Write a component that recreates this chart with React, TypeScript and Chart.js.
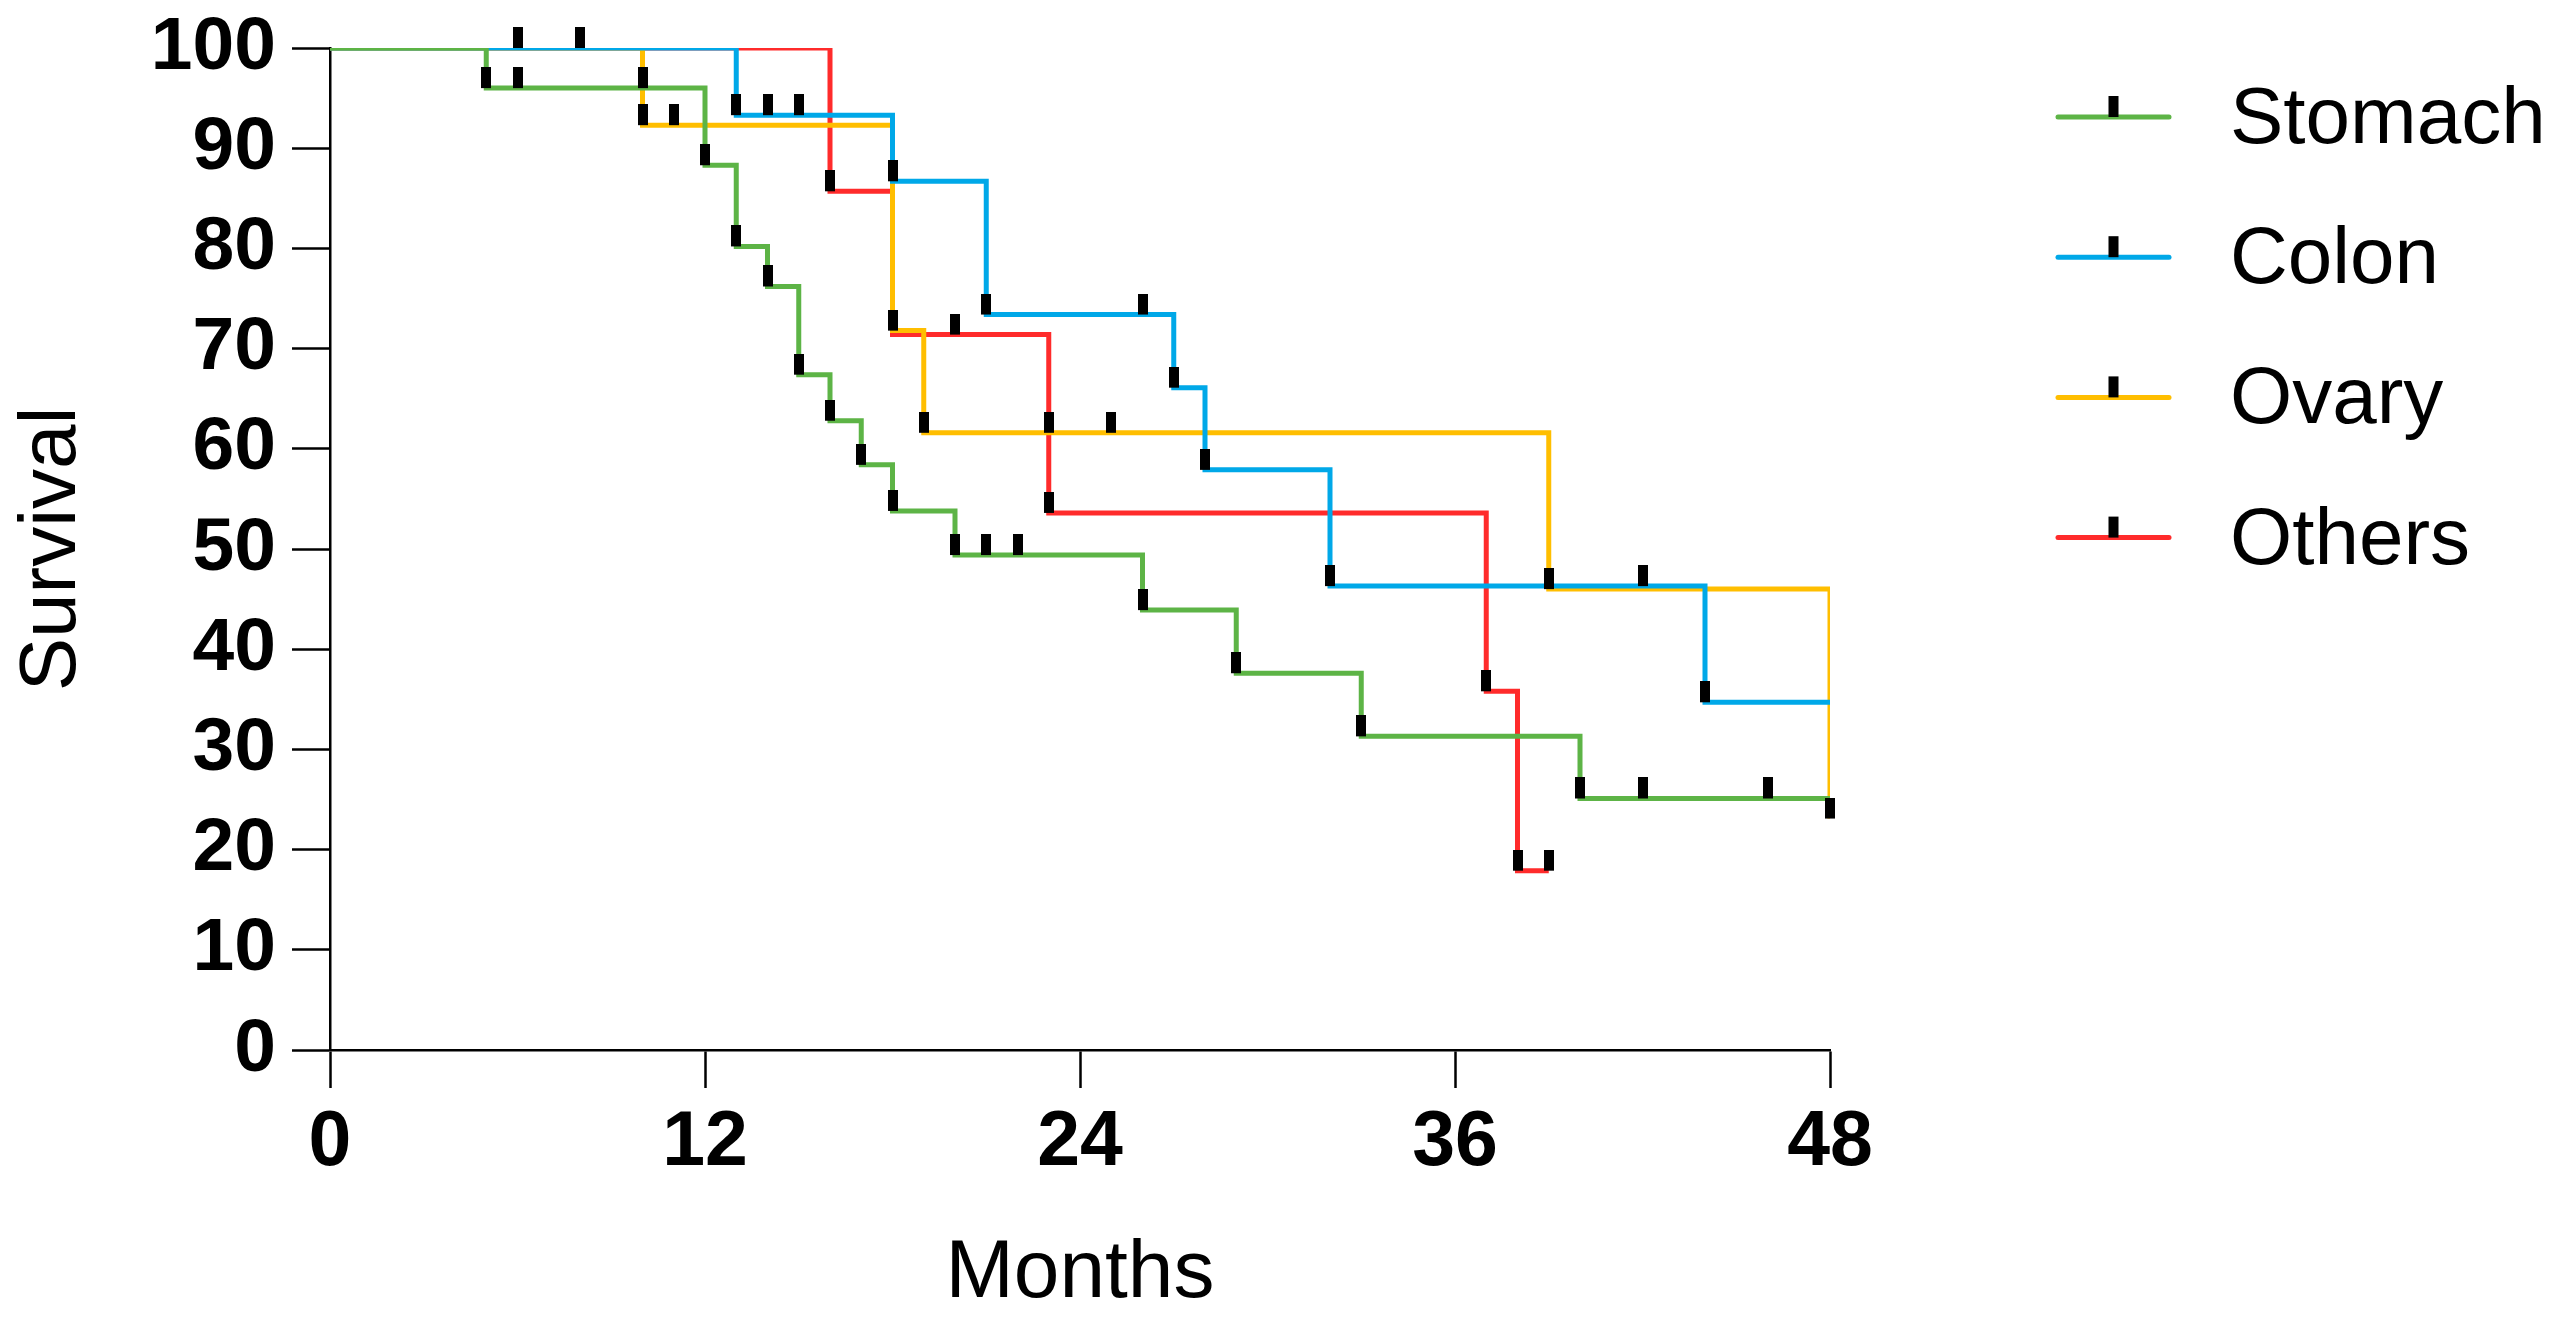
import React, { useEffect, useRef } from "react";
import { Chart, registerables } from "chart.js";

Chart.register(...registerables);

const FONT = "'Liberation Sans', Arial, Helvetica, sans-serif";

const groups = ["Stomach", "Colon", "Ovary", "Others"];
const colors = ["#5DB446", "#00A8E8", "#FFBE00", "#FF2B2B"];

const xTickValues = [0, 12, 24, 36, 48];
const yTickValues = [0, 10, 20, 30, 40, 50, 60, 70, 80, 90, 100];

// Stomach
const stomachMonths = [0, 5, 12, 13, 14, 15, 16, 17, 18, 20, 26, 29, 33, 40, 48];
const stomachSurvival = [100, 96, 88.3, 80.2, 76.2, 67.4, 62.8, 58.4, 53.8, 49.4, 43.9, 37.6, 31.3, 25.1, 25.1];
const stomachCensorMonths = [5, 6, 10, 12, 13, 14, 15, 16, 17, 18, 20, 21, 22, 26, 29, 33, 40, 42, 46];
const stomachCensorSurvival = [96, 96, 96, 88.3, 80.2, 76.2, 67.4, 62.8, 58.4, 53.8, 49.4, 49.4, 49.4, 43.9, 37.6, 31.3, 25.1, 25.1, 25.1];

// Colon
const colonMonths = [0, 13, 18, 21, 27, 28, 32, 44, 48];
const colonSurvival = [100, 93.3, 86.7, 73.4, 66.1, 57.9, 46.3, 34.7, 34.7];
const colonCensorMonths = [6, 8, 13, 14, 15, 18, 21, 26, 27, 28, 32, 42, 44];
const colonCensorSurvival = [100, 100, 93.3, 93.3, 93.3, 86.7, 73.4, 73.4, 66.1, 57.9, 46.3, 46.3, 34.7];

// Ovary
const ovaryMonths = [0, 10, 18, 19, 39, 48];
const ovarySurvival = [100, 92.3, 71.8, 61.6, 46.0, 23.1];
const ovaryCensorMonths = [10, 11, 18, 19, 23, 25, 39, 48];
const ovaryCensorSurvival = [92.3, 92.3, 71.8, 61.6, 61.6, 61.6, 46.0, 23.1];

// Others
const othersMonths = [0, 16, 18, 23, 37, 38, 39];
const othersSurvival = [100, 85.7, 71.4, 53.6, 35.8, 17.9, 17.9];
const othersCensorMonths = [16, 20, 23, 37, 38, 39];
const othersCensorSurvival = [85.7, 71.4, 53.6, 35.8, 17.9, 17.9];

const curveMonths = [stomachMonths, colonMonths, ovaryMonths, othersMonths];
const curveSurvival = [stomachSurvival, colonSurvival, ovarySurvival, othersSurvival];
const censorMonths = [stomachCensorMonths, colonCensorMonths, ovaryCensorMonths, othersCensorMonths];
const censorSurvival = [stomachCensorSurvival, colonCensorSurvival, ovaryCensorSurvival, othersCensorSurvival];

const TICK_W = 10;
const TICK_H = 21;

function makeCensorImage(): HTMLCanvasElement {
  const c = document.createElement("canvas");
  c.width = TICK_W;
  c.height = TICK_H * 2;
  const g = c.getContext("2d")!;
  g.fillStyle = "#000";
  g.fillRect(0, 0, TICK_W, TICK_H);
  return c;
}

const legendPlugin = {
  id: "kmLegend",
  afterDraw(chart: any) {
    const ctx = chart.ctx as CanvasRenderingContext2D;
    const { right, top } = chart.chartArea;
    const x0 = right + 228;
    const x1 = right + 339;
    const textX = right + 400;
    const y0 = top + 69;
    const dy = 140.2;
    ctx.save();
    groups.forEach((name, i) => {
      const y = y0 + i * dy;
      ctx.strokeStyle = colors[i];
      ctx.lineWidth = 5;
      ctx.lineCap = "round";
      ctx.beginPath();
      ctx.moveTo(x0, y);
      ctx.lineTo(x1, y);
      ctx.stroke();
      ctx.fillStyle = "#000";
      const cx = (x0 + x1) / 2;
      ctx.fillRect(cx - TICK_W / 2, y - TICK_H, TICK_W, TICK_H);
      ctx.font = `80px ${FONT}`;
      ctx.textAlign = "left";
      ctx.textBaseline = "middle";
      ctx.fillText(name, textX, y + 4);
    });
    ctx.restore();
  },
};

export default function App() {
  const ref = useRef<HTMLCanvasElement | null>(null);

  useEffect(() => {
    if (!ref.current) return;
    const img = makeCensorImage();

    const lineSets = groups.map((name, i) => ({
      type: "line" as const,
      label: name,
      data: curveMonths[i].map((m, k) => ({ x: m, y: curveSurvival[i][k] })),
      borderColor: colors[i],
      backgroundColor: colors[i],
      borderWidth: 5,
      stepped: "before" as const,
      pointRadius: 0,
      fill: false,
      order: i + 1,
      borderCapStyle: "butt" as const,
      borderJoinStyle: "miter" as const,
    }));

    const censorSets = groups.map((name, i) => ({
      type: "line" as const,
      label: name + " censored",
      data: censorMonths[i].map((m, k) => ({ x: m, y: censorSurvival[i][k] })),
      showLine: false,
      pointStyle: img,
      pointRadius: 5,
      borderWidth: 0,
      borderColor: "#000",
      backgroundColor: "#000",
      clip: false,
      order: 0,
    }));

    const chart = new Chart(ref.current, {
      type: "line",
      data: { datasets: [...lineSets, ...censorSets] as any },
      options: {
        responsive: false,
        animation: false,
        events: [],
        layout: { padding: { top: 48, right: 727, bottom: 0, left: 0 } },
        plugins: {
          legend: { display: false },
          tooltip: { enabled: false },
        },
        scales: {
          x: {
            type: "linear",
            min: 0,
            max: 48,
            afterBuildTicks: (s: any) => {
              s.ticks = xTickValues.map((v) => ({ value: v }));
            },
            afterFit: (s: any) => {
              s.height = 279;
              s.paddingLeft = 0;
              s.paddingRight = 0;
            },
            grid: {
              drawOnChartArea: false,
              drawTicks: true,
              tickLength: 38,
              tickWidth: 2.5,
              tickColor: "#000",
            },
            border: { display: true, color: "#000", width: 2.5 },
            ticks: {
              color: "#000",
              font: { family: FONT, size: 77, weight: "bold" },
              padding: 10,
              maxRotation: 0,
              autoSkip: false,
              callback: (v: any) => String(v),
            },
            title: {
              display: true,
              text: "Months",
              color: "#000",
              font: { family: FONT, size: 82 },
              padding: { top: 0, bottom: 5 },
            },
          },
          y: {
            type: "linear",
            min: 0,
            max: 100,
            afterBuildTicks: (s: any) => {
              s.ticks = yTickValues.map((v) => ({ value: v }));
            },
            afterFit: (s: any) => {
              s.width = 330;
              s.paddingTop = 0;
              s.paddingBottom = 0;
            },
            grid: {
              drawOnChartArea: false,
              drawTicks: true,
              tickLength: 38,
              tickWidth: 2.5,
              tickColor: "#000",
            },
            border: { display: true, color: "#000", width: 2.5 },
            ticks: {
              color: "#000",
              font: { family: FONT, size: 75, weight: "bold" },
              padding: 16,
              autoSkip: false,
              callback: (v: any) => String(v),
            },
            title: {
              display: true,
              text: "Survival",
              color: "#000",
              font: { family: FONT, size: 80 },
              padding: { top: 5, bottom: 0 },
            },
          },
        },
      } as any,
      plugins: [legendPlugin],
    });

    return () => chart.destroy();
  }, []);

  return (
    <div style={{ position: "absolute", left: 0, top: 0, width: 2557, height: 1329, background: "#fff" }}>
      <canvas ref={ref} width={2557} height={1329} style={{ display: "block", width: 2557, height: 1329 }} />
    </div>
  );
}
